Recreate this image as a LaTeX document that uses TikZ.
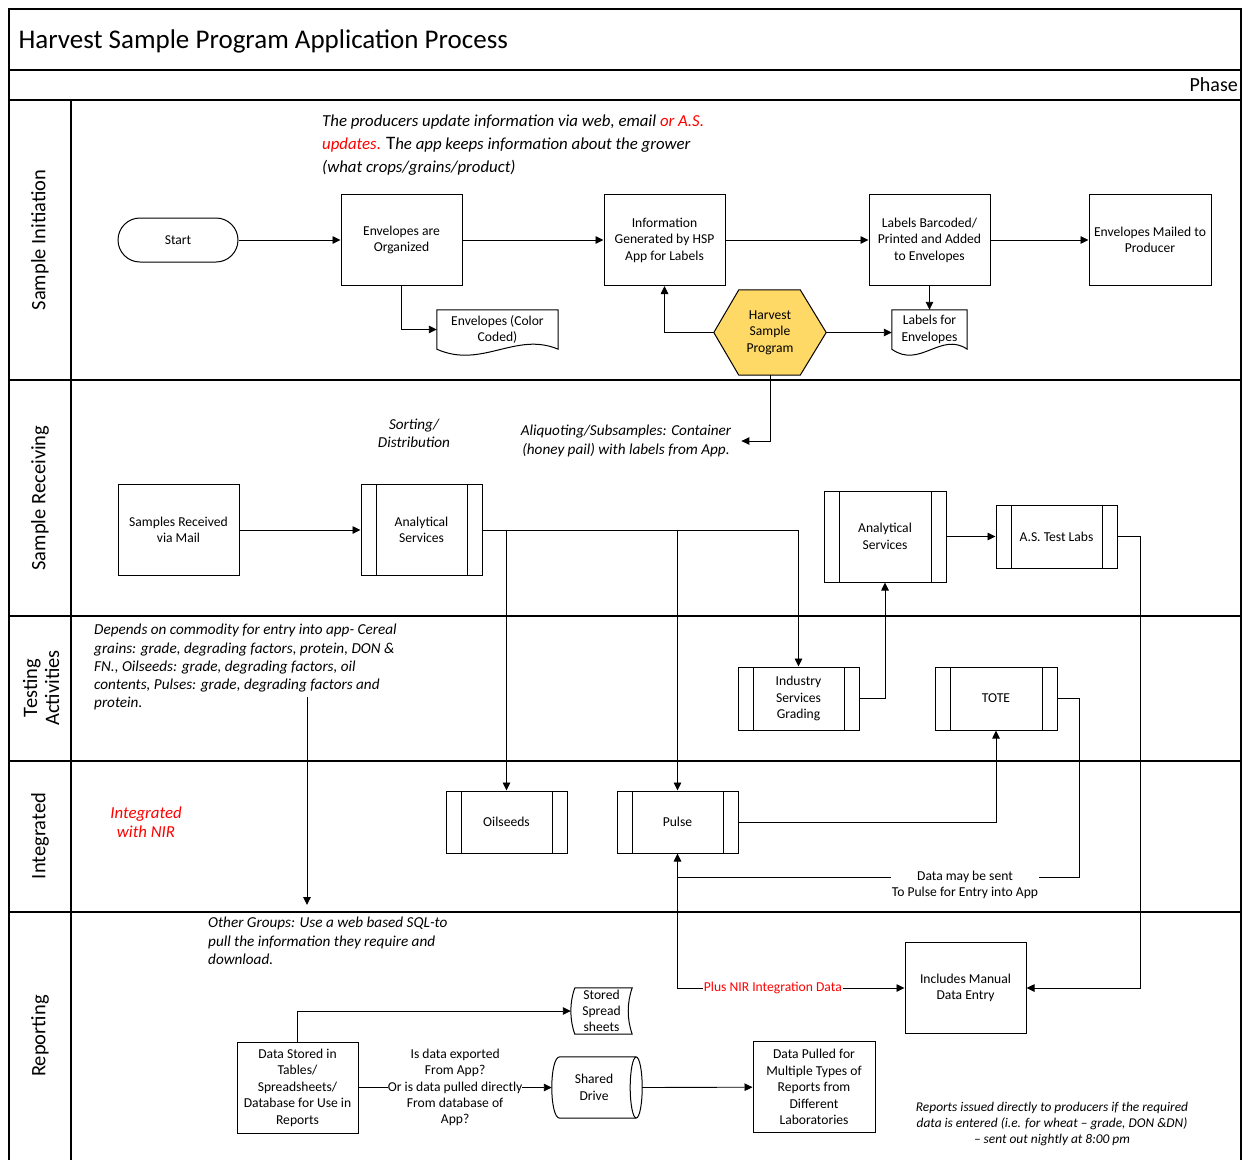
\documentclass[tikz,border=0pt]{standalone}
\usepackage{fontspec}
\setmainfont{Carlito}
\usetikzlibrary{arrows.meta,calc,backgrounds}
\definecolor{hspyellow}{HTML}{FFD966}
\definecolor{nirred}{HTML}{FF0000}
\newcommand\docoutline[1]{\draw[box] (#1.south west) .. controls ($(#1.south west)!0.37!(#1.south east)+(0,20)$) and ($(#1.south west)!0.65!(#1.south east)+(0,-18)$) .. (#1.south east) -- (#1.north east) -- (#1.north west) -- cycle;}
\newcommand\storedoutline[1]{\draw[box] ([xshift=4pt]#1.north west) -- (#1.north east) .. controls +(-5.3,15) and +(-5.3,-15) .. (#1.south east) -- ([xshift=4pt]#1.south west) .. controls +(-5.3,-15) and +(-5.3,15) .. ([xshift=4pt]#1.north west);}
\newcommand\driveoutline[1]{\draw[box] (#1.north east) -- ([xshift=8pt]#1.north west) .. controls +(-10.7,0) and +(-10.7,0) .. ([xshift=8pt]#1.south west) -- (#1.south east); \draw[box] (#1.east) ellipse [x radius=6pt, y radius=30.5pt];}
\begin{document}
\begin{tikzpicture}[x=1pt,y=-1pt,
  font=\fontsize{13.6}{16.5}\selectfont,
  lane/.style={line width=1.5pt},
  box/.style={draw,line width=1pt},
  proc/.style={box,align=center,minimum width=121,minimum height=91,inner sep=1pt},
  predef/.style={proc,path picture={\draw[line width=1pt] ([xshift=15pt]path picture bounding box.north west) -- ([xshift=15pt]path picture bounding box.south west) ([xshift=-15pt]path picture bounding box.north east) -- ([xshift=-15pt]path picture bounding box.south east);}},
  plain/.style={align=center,minimum width=121,minimum height=39,inner sep=1pt},
  conn/.style={line width=0.9pt,-{Triangle[length=8pt,width=7.5pt]}},
  note/.style={font=\itshape\fontsize{15.2}{18.3}\selectfont,inner sep=0pt},
  lanelabel/.style={rotate=90,font=\fontsize{20.5}{22}\selectfont,align=center}]
\useasboundingbox (0,0) rectangle (1242,1160);
\draw[lane] (9,1160) -- (9,9) -- (1241,9) -- (1241,1160);
\draw[lane] (9,70) -- (1241,70) (9,100) -- (1241,100) (9,380) -- (1241,380) (9,616) -- (1241,616)
  (9,761) -- (1241,761) (9,912) -- (1241,912) (71,100) -- (71,1160);
\node[anchor=west,font=\fontsize{27}{30}\selectfont] (title) at (15,41) {Harvest Sample Program Application Process};
\node[anchor=east,font=\fontsize{20}{22}\selectfont,inner sep=2pt] (phase) at (1240,85) {Phase};
\node[lanelabel] (laneinit) at (40,240) {Sample Initiation};
\node[lanelabel] (lanerec) at (40,498) {Sample Receiving};
\node[lanelabel] (lanetest) at (41,688) {Testing\\Activities};
\node[lanelabel] (laneint) at (40,836) {Integrated};
\node[lanelabel] (lanerep) at (40,1036) {Reporting};

\node[note,anchor=north west,align=left,font=\itshape\fontsize{16.8}{23}\selectfont] (upd) at (322,115)
  {The producers update information via web, email \textcolor{nirred}{or A.S.}\\
   \textcolor{nirred}{updates.} {\upshape\fontsize{19}{23}\selectfont T}he app keeps information about the grower\\
   (what crops/grains/product)};
\node[proc,rounded corners=22pt,minimum width=120,minimum height=44] (start) at (178,240) {Start};
\node[proc] (org) at (401.5,240) {Envelopes are\\Organized};
\node[proc] (info) at (664.5,240) {Information\\Generated by HSP\\App for Labels};
\node[proc] (lbl) at (929.5,240) {Labels Barcoded/\\Printed and Added\\to Envelopes};
\node[proc,minimum width=122] (mail) at (1150,240) {Envelopes Mailed to\\Producer};
\node[plain] (envdoc) at (497.5,329.5) {Envelopes (Color\\Coded)};
\docoutline{envdoc}
\node[plain,minimum width=75] (lbldoc) at (929.5,329.5) {Labels for\\Envelopes};
\docoutline{lbldoc}
\node[align=center,minimum width=112,minimum height=85,inner sep=1pt] (hsp) at (770,332.5) {Harvest\\Sample\\Program};
\begin{scope}[on background layer]
\draw[box,fill=hspyellow] (hsp.west) -- ([xshift=25pt]hsp.north west) -- ([xshift=-26pt]hsp.north east) -- (hsp.east)
  -- ([xshift=-26pt]hsp.south east) -- ([xshift=25pt]hsp.south west) -- cycle;
\end{scope}
\draw[conn] (start) -- (org);
\draw[conn] (org) -- (info);
\draw[conn] (info) -- (lbl);
\draw[conn] (lbl) -- (mail);
\draw[conn] (org.south) |- (envdoc.west);
\draw[conn] (lbl.south) -- (lbldoc.north);
\draw[conn] (hsp.west) -| (info.south);
\draw[conn] (hsp.east) -- (hsp.east -| lbldoc.west);

\node[note,align=center] (sortd) at (414,433) {Sorting/\\Distribution};
\node[note,align=center] (aliq) at (626,441) {Aliquoting/Subsamples: Container\\(honey pail) with labels from App.};
\draw[conn] (hsp.south) |- ([xshift=10pt]aliq.east);
\node[proc] (rec) at (178.5,530) {Samples Received\\via Mail};
\node[predef] (as1) at (421.5,530) {Analytical\\Services};
\node[predef,minimum width=122] (as2) at (885,536.5) {Analytical\\Services};
\node[predef,minimum height=63] (tl) at (1056.5,536.5) {A.S. Test Labs};

\node[note,anchor=north west,align=left] (dep) at (94,624)
  {Depends on commodity for entry into app- Cereal\\grains: grade, degrading factors, protein, DON \&\\FN., Oilseeds: grade, degrading factors, oil\\contents, Pulses: grade, degrading factors and\\protein.};
\node[predef,minimum height=63] (isg) at (798.5,698.5) {Industry\\Services\\Grading};
\node[predef,minimum width=122,minimum height=63] (tote) at (996,698.5) {TOTE};

\node[note,align=center,text=nirred,font=\itshape\fontsize{16.8}{19.5}\selectfont] (nir) at (146,822) {Integrated\\with NIR};
\node[predef,minimum height=62] (oil) at (506.5,822) {Oilseeds};
\node[predef,minimum height=62] (pulse) at (677.5,822) {Pulse};
\coordinate (dj) at (677.5,877);

\node[note,anchor=north west,align=left] (grp) at (208,917)
  {Other Groups: Use a web based SQL-to\\pull the information they require and\\download.};
\node[proc] (manual) at (965.5,988) {Includes Manual\\Data Entry};
\node[align=center,minimum width=61,minimum height=46,inner sep=0pt,font=\fontsize{13.6}{16}\selectfont] (stored) at (601.5,1011) {Stored\\Spread\\sheets};
\storedoutline{stored}
\node[proc] (dst) at (297.5,1087.5) {Data Stored in\\Tables/\\Spreadsheets/\\Database for Use in\\Reports};
\node[align=center,minimum width=84,minimum height=61,inner sep=0pt] (shared) at (594,1087.5) {Shared\\Drive};
\driveoutline{shared}
\node[proc,minimum width=122] (pulled) at (814,1087) {Data Pulled for\\Multiple Types of\\Reports from\\Different\\Laboratories};
\node[note,align=center,font=\itshape\fontsize{13.4}{16}\selectfont] (rep) at (1052,1124)
  {Reports issued directly to producers if the required\\data is entered (i.e. for wheat -- grade, DON \&DN)\\-- sent out nightly at 8:00 pm};

\coordinate (depa) at (307,697);
\coordinate (depb) at (307,905);
\draw[conn] (depa) -- (depb);
\draw[conn] (rec) -- (as1);
\draw[conn] (as1.east) -| (isg.north);
\draw[conn] (oil.north |- as1.east) -- (oil.north);
\draw[conn] (pulse.north |- as1.east) -- (pulse.north);
\draw[conn] (isg.east) -| (as2.south);
\draw[conn] (as2) -- (tl);
\draw[conn] (tl.east) -- ++(23,0) |- (manual.east);
\draw[conn] (pulse.east) -| (tote.south);
\draw[conn] (tote.east) -- ++(22,0) |- (dj) -- (pulse.south);
\node[fill=white,align=center,inner sep=1pt,font=\fontsize{13.6}{16}\selectfont] (dmsb) at (965,885) {Data may be sent\\To Pulse for Entry into App};
\draw[conn] (pulse.south) |- (manual.west) node[pos=0.71,fill=white,text=nirred,inner sep=1pt] (nirdata) {Plus NIR Integration Data};
\draw[conn] (dst.north) |- (stored.west);
\draw[conn] (dst) -- (shared) node[midway,fill=white,align=center,inner sep=0pt,font=\fontsize{13.6}{16.3}\selectfont] (expq)
  {Is data exported\\From App?\\Or is data pulled directly\\From database of\\App?};
\draw[conn] ([xshift=6pt]shared.east) -- (pulled);
\end{tikzpicture}
\end{document}
